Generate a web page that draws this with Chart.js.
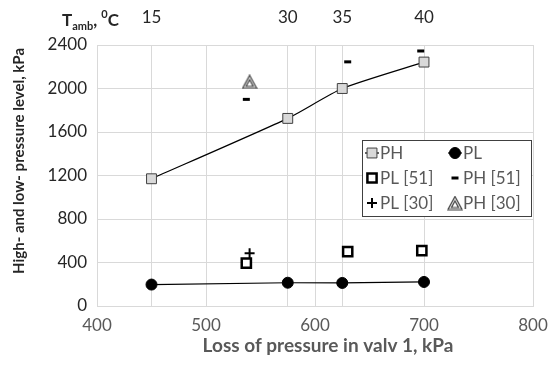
<!DOCTYPE html>
<html lang="en">
<head>
<meta charset="UTF-8">
<script src="https://cdn.jsdelivr.net/npm/chart.js@4.4.0/dist/chart.umd.min.js"></script>
<title>Pressure levels</title>
<style>
  html, body { margin: 0; padding: 0; background: #fff; }
  #wrap { width: 548px; height: 366px; }
</style>
</head>
<body>
<div id="wrap"><canvas id="myChart" width="548" height="366"></canvas></div>
<script>
// data
const lossX = [450, 575, 625, 700];
const tempLabels = ['15', '30', '35', '40'];
const phValues = [1170, 1725, 2000, 2243];
const plValues = [197, 214, 212, 221];
const pl51X = [537, 630, 698];
const pl51Values = [394, 500, 510];
const ph51X = [537, 630, 697];
const ph51Values = [1900, 2245, 2345];
const pl30X = [540];
const pl30Values = [485];
const ph30X = [540];
const ph30Values = [2062];
const xTicks = [400, 500, 600, 700, 800];
const yTicks = [0, 400, 800, 1200, 1600, 2000, 2400];

const FONT = 'Lato, "Open Sans", sans-serif';

function pts(xs, ys) {
  return xs.map((x, i) => ({x: x, y: ys[i]}));
}

// double outlined triangle marker
function triangleMarker() {
  const c = document.createElement('canvas');
  c.width = 16; c.height = 15;
  const g = c.getContext('2d');
  g.strokeStyle = '#404040';
  g.lineWidth = 1.2;
  g.fillStyle = '#ededed';
  g.beginPath(); g.moveTo(8, 1); g.lineTo(15, 14); g.lineTo(1, 14); g.closePath();
  g.fill(); g.stroke();
  g.fillStyle = '#fff';
  g.beginPath(); g.moveTo(8, 5.5); g.lineTo(11.5, 12); g.lineTo(4.5, 12); g.closePath();
  g.fill(); g.stroke();
  return c;
}
const triImg = triangleMarker();

const datasets = [
  {label: 'PH', data: pts(lossX, phValues), showLine: true, borderColor: '#000', borderWidth: 1.2,
   tension: 0.2, pointStyle: 'rect', pointRadius: 7, pointBackgroundColor: '#d9d9d9',
   pointBorderColor: '#404040', pointBorderWidth: 1},
  {label: 'PL', data: pts(lossX, plValues), showLine: true, borderColor: '#000', borderWidth: 1.2,
   pointStyle: 'circle', pointRadius: 5.5, pointBackgroundColor: '#000', pointBorderColor: '#000', pointBorderWidth: 1},
  {label: 'PL [51]', data: pts(pl51X, pl51Values), showLine: false, pointStyle: 'rect', pointRadius: 6.5,
   pointBackgroundColor: '#fff', pointBorderColor: '#000', pointBorderWidth: 2.5},
  {label: 'PH [51]', data: pts(ph51X, ph51Values), showLine: false, pointStyle: 'line', pointRadius: 3.5,
   pointBorderColor: '#000', pointBorderWidth: 3},
  {label: 'PL [30]', data: pts(pl30X, pl30Values), showLine: false, pointStyle: 'cross', pointRadius: 5,
   pointBorderColor: '#000', pointBorderWidth: 2},
  {label: 'PH [30]', data: pts(ph30X, ph30Values), showLine: false, pointStyle: triImg, pointRadius: 7}
];

const extras = {
  id: 'extras',
  afterDraw(chart) {
    const ctx = chart.ctx;
    ctx.save();
    // axis titles
    ctx.fillStyle = '#595959';
    ctx.font = 'bold 19px ' + FONT;
    ctx.textAlign = 'center';
    ctx.textBaseline = 'middle';
    ctx.fillText('Loss of pressure in valv 1, kPa', 328, 346);
    ctx.save();
    ctx.translate(19, 161);
    ctx.rotate(-Math.PI / 2);
    ctx.fillStyle = '#262626';
    ctx.font = 'bold 15px ' + FONT;
    ctx.fillText('High- and low- pressure level, kPa', 0, 0);
    ctx.restore();

    // top axis title T_amb, 0C
    ctx.fillStyle = '#262626';
    ctx.textBaseline = 'alphabetic';
    ctx.textAlign = 'left';
    let x = 62, y = 26;
    ctx.font = 'bold 17px ' + FONT;
    ctx.fillText('T', x, y); x += ctx.measureText('T').width;
    ctx.font = 'bold 11px ' + FONT;
    ctx.fillText('amb', x, y + 4); x += ctx.measureText('amb').width;
    ctx.font = 'bold 17px ' + FONT;
    ctx.fillText(', ', x, y); x += ctx.measureText(', ').width;
    ctx.font = 'bold 11px ' + FONT;
    ctx.fillText('0', x, y - 8); x += ctx.measureText('0').width;
    ctx.font = 'bold 17px ' + FONT;
    ctx.fillText('C', x, y);

    // legend box, two columns
    const bx = 362, by = 140, bw = 169, bh = 76;
    ctx.fillStyle = '#fff';
    ctx.fillRect(bx, by, bw, bh);
    ctx.strokeStyle = '#404040';
    ctx.lineWidth = 1;
    ctx.strokeRect(bx + 0.5, by + 0.5, bw, bh);
    const cols = [bx + 10, bx + 93];
    const rows = [by + 13, by + 38, by + 63];
    chart.data.datasets.forEach((ds, i) => {
      const mx = cols[i % 2], my = rows[Math.floor(i / 2)];
      if (ds.showLine) {
        ctx.strokeStyle = '#000';
        ctx.lineWidth = 1.2;
        ctx.beginPath(); ctx.moveTo(mx - 7, my); ctx.lineTo(mx + 7, my); ctx.stroke();
      }
      ctx.fillStyle = ds.pointBackgroundColor || '#fff';
      ctx.strokeStyle = ds.pointBorderColor || '#000';
      ctx.lineWidth = ds.pointBorderWidth || 1;
      Chart.helpers.drawPoint(ctx, {pointStyle: ds.pointStyle, radius: ds.pointRadius, rotation: 0,
        borderWidth: ds.pointBorderWidth || 1}, mx, my);
      ctx.fillStyle = '#595959';
      ctx.font = '17px ' + FONT;
      ctx.textBaseline = 'middle';
      ctx.fillText(ds.label, mx + 8, my + 1);
    });
    ctx.restore();
  }
};

function noSidePad(s) {
  s.paddingLeft = 0;
  s.paddingRight = 0;
}

new Chart(document.getElementById('myChart').getContext('2d'), {
  type: 'scatter',
  data: {datasets: datasets},
  plugins: [extras],
  options: {
    responsive: false,
    animation: false,
    layout: {padding: {left: 6, right: 15, top: 0, bottom: 4}},
    plugins: {legend: {display: false}, tooltip: {enabled: false}},
    scales: {
      x: {
        type: 'linear', position: 'bottom', min: 400, max: 800,
        afterBuildTicks: s => { s.ticks = xTicks.map(v => ({value: v})); },
        grid: {color: '#d9d9d9', drawTicks: false},
        border: {color: '#d9d9d9'},
        ticks: {color: '#595959', font: {family: FONT, size: 17}, padding: 9, callback: v => String(v)},
        afterFit: s => { s.height = 56; noSidePad(s); }
      },
      x2: {
        type: 'linear', position: 'top', min: 400, max: 800,
        afterBuildTicks: s => { s.ticks = lossX.map(v => ({value: v})); },
        grid: {color: '#d9d9d9', drawTicks: false},
        border: {color: '#d9d9d9'},
        ticks: {color: '#262626', font: {family: FONT, size: 17}, padding: 17,
                callback: v => tempLabels[lossX.indexOf(v)]},
        afterFit: s => { s.height = 45; noSidePad(s); }
      },
      y: {
        type: 'linear', min: 0, max: 2400,
        afterBuildTicks: s => { s.ticks = yTicks.map(v => ({value: v})); },
        grid: {color: '#d9d9d9', drawTicks: false},
        border: {color: '#d9d9d9'},
        ticks: {color: '#262626', font: {family: FONT, size: 17}, padding: 10, callback: v => String(v)},
        afterFit: s => { s.width = 91; s.paddingTop = 0; s.paddingBottom = 0; }
      }
    }
  }
});
</script>
</body>
</html>
